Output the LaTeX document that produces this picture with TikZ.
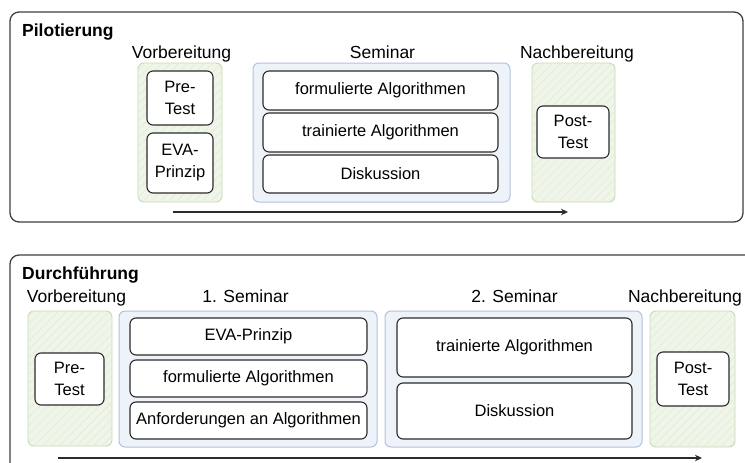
\documentclass[tikz,border=0pt]{standalone}
\usepackage{fontspec}
\setmainfont{Liberation Sans}
\usetikzlibrary{patterns.meta,arrows.meta}
\definecolor{greenfill}{HTML}{EFF5E8}
\definecolor{greenline}{HTML}{C6DBB4}
\definecolor{hatchc}{HTML}{E2ECD8}
\definecolor{bluefill}{HTML}{EEF2F9}
\definecolor{blueline}{HTML}{B3C2DF}
\definecolor{ink}{HTML}{2B2B2B}
\tikzset{
  frame/.style={draw=ink!90, line width=1.3pt, rounded corners=9pt, fill=white, inner sep=0pt},
  greenbox/.style={draw=greenline, line width=0.9pt, rounded corners=6pt, fill=greenfill, inner sep=0pt,
    postaction={pattern={Lines[angle=45,distance=6pt,line width=0.6pt]}, pattern color=hatchc}},
  bluebox/.style={draw=blueline, line width=1pt, rounded corners=6pt, fill=bluefill, inner sep=0pt},
  item/.style={draw=ink, line width=1.1pt, rounded corners=6pt, fill=white, inner sep=0pt,
    align=center, font=\fontsize{16.5}{22}\selectfont},
  lab/.style={anchor=base, inner sep=0pt, font=\fontsize{17.5}{20}\selectfont},
  ttl/.style={anchor=base west, inner sep=0pt, font=\bfseries\fontsize{17.5}{20}\selectfont},
  arr/.style={draw=ink, line width=1.6pt, -{Stealth[length=7pt,width=6.5pt]}}
}
\begin{document}
\begin{tikzpicture}[x=1pt,y=-1pt]
\useasboundingbox (0,0) rectangle (745,463);
\clip (0,0) rectangle (745,463);

% ---------- Pilotierung ----------
\node[frame, minimum width=733pt, minimum height=210pt] (frameP) at (376.5,117) {};
\node[ttl] (ttlP) at (22,36) {Pilotierung};

\node[greenbox, minimum width=84pt, minimum height=139pt] (vorbP) at (180,132.5) {};
\node[lab] (labVP) at (181.5,58) {Vorbereitung};
\node[item, minimum width=66pt, minimum height=54pt] (preP) at (180,98) {Pre-\\Test};
\node[item, minimum width=66pt, minimum height=60pt] (evaP) at (180,163) {EVA-\\Prinzip};

\node[bluebox, minimum width=257pt, minimum height=139pt] (semP) at (381.5,132.5) {};
\node[lab] (labSP) at (382.5,58) {Seminar};
\node[item, minimum width=235pt, minimum height=39pt] (formP) at (380.5,90.5) {formulierte Algorithmen};
\node[item, minimum width=235pt, minimum height=39pt] (trainP) at (380.5,132.5) {trainierte Algorithmen};
\node[item, minimum width=235pt, minimum height=38pt] (diskP) at (380.5,174) {Diskussion};

\node[greenbox, minimum width=83pt, minimum height=139pt] (nachP) at (573.5,132.5) {};
\node[lab] (labNP) at (577,58) {Nachbereitung};
\node[item, minimum width=72pt, minimum height=52pt] (postP) at (573,132) {Post-\\Test};

\coordinate (aPs) at (173,212);
\coordinate (aPe) at (568,212);
\draw[arr] (aPs) -- (aPe);

% ---------- Durchfuehrung ----------
\node[frame, minimum width=750pt, minimum height=225pt] (frameD) at (385,367.5) {};
\node[ttl] (ttlD) at (22,279) {Durchführung};

\node[greenbox, minimum width=84pt, minimum height=135pt] (vorbD) at (70,378.5) {};
\node[lab] (labVD) at (76.5,302) {Vorbereitung};
\node[item, minimum width=69pt, minimum height=52pt] (preD) at (69.5,379) {Pre-\\Test};

\node[bluebox, minimum width=258pt, minimum height=136pt] (sem1) at (248,379) {};
\node[lab] (labS1) at (245.5,302) {1. Seminar};
\node[item, minimum width=237pt, minimum height=37pt] (evaD) at (248.5,336.5) {EVA-Prinzip};
\node[item, minimum width=237pt, minimum height=37pt] (formD) at (248.5,378.5) {formulierte Algorithmen};
\node[item, minimum width=237pt, minimum height=37pt] (anfD) at (248.5,420.5) {Anforderungen an Algorithmen};

\node[bluebox, minimum width=257pt, minimum height=136pt] (sem2) at (513.5,379) {};
\node[lab] (labS2) at (514.5,302) {2. Seminar};
\node[item, minimum width=235pt, minimum height=59pt] (trainD) at (514.5,347.5) {trainierte Algorithmen};
\node[item, minimum width=235pt, minimum height=56pt] (diskD) at (514.5,411) {Diskussion};

\node[greenbox, minimum width=85pt, minimum height=136pt] (nachD) at (692.5,379) {};
\node[lab] (labND) at (685,302) {Nachbereitung};
\node[item, minimum width=72pt, minimum height=54pt] (postD) at (693,379) {Post-\\Test};

\coordinate (aDs) at (58,458);
\coordinate (aDe) at (702,458);
\draw[arr] (aDs) -- (aDe);
\end{tikzpicture}
\end{document}
